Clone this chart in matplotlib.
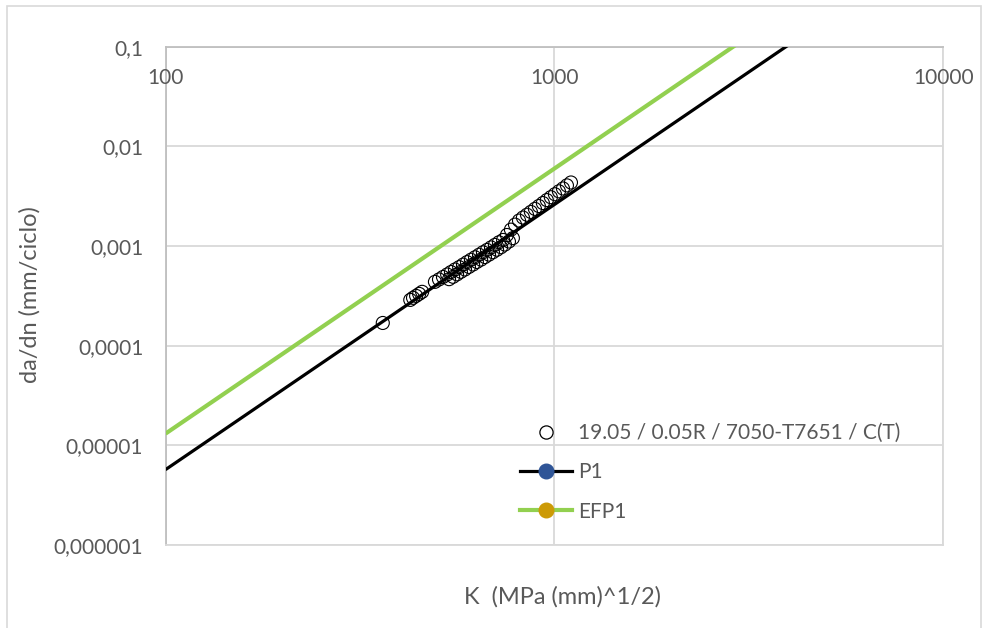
import matplotlib
matplotlib.use("Agg")
import numpy as np
import matplotlib.pyplot as plt
from matplotlib.lines import Line2D
from matplotlib.patches import Rectangle

plt.rcParams['font.family'] = ['Lato', 'DejaVu Sans']

# Measured crack growth data: K  (MPa (mm)^1/2) vs da/dn (mm/ciclo)
series_label = "19.05 / 0.05R / 7050-T7651 / C(T)"
k_data = [
    362,
    426, 433, 441, 449, 457,
    493, 505, 517, 530, 542, 555, 569, 582, 596, 610, 625, 640, 655, 671,
    687, 703, 720, 738, 755, 773, 792, 811, 830, 850, 870, 891, 912, 934,
    956, 979, 1003, 1027, 1052, 1077, 1103,
    536, 549, 562, 575, 589, 603, 618, 632, 648, 663, 679, 695, 712, 729,
    746, 764, 782,
]
dadn_data = [
    1.69e-4,
    2.88e-4, 3.02e-4, 3.16e-4, 3.31e-4, 3.47e-4,
    4.37e-4, 4.62e-4, 4.89e-4, 5.18e-4, 5.48e-4, 5.81e-4, 6.14e-4, 6.50e-4,
    6.89e-4, 7.28e-4, 7.71e-4, 8.17e-4, 8.65e-4, 9.14e-4, 9.68e-4, 1.026e-3,
    1.09e-3, 1.15e-3, 1.29e-3, 1.46e-3, 1.64e-3, 1.80e-3, 1.93e-3, 2.06e-3,
    2.20e-3, 2.36e-3, 2.52e-3, 2.70e-3, 2.89e-3, 3.09e-3, 3.31e-3, 3.54e-3,
    3.78e-3, 4.06e-3, 4.34e-3,
    4.65e-4, 4.91e-4, 5.20e-4, 5.51e-4, 5.82e-4, 6.17e-4, 6.53e-4, 6.92e-4,
    7.31e-4, 7.75e-4, 8.20e-4, 8.67e-4, 9.18e-4, 9.73e-4, 1.035e-3, 1.11e-3,
    1.20e-3,
]

# Paris-law curves da/dn = C * K^m
fit_labels = ["P1", "EFP1"]
fit_C = [2.73e-11, 6.27e-11]
fit_m = [2.66, 2.66]
fit_colors = ["#000000", "#92D050"]
fit_widths = [2.3, 3.0]
legend_marker_colors = ["#2F5597", "#CC9A06"]

x_ticks = [100, 1000, 10000]
x_tick_labels = ["100", "1000", "10000"]
y_ticks = [1e-6, 1e-5, 1e-4, 1e-3, 1e-2, 1e-1]
y_tick_labels = ["0,000001", "0,00001", "0,0001", "0,001", "0,01", "0,1"]

W, H = 986, 628
text_color = "#595959"
grid_color = "#D9D9D9"
axis_color = "#BFBFBF"
fs = 15
fs_title = 17

fig = plt.figure(figsize=(W / 100, H / 100), dpi=100)
fig.patch.set_facecolor("white")

# outer chart border
fig.add_artist(Rectangle((7 / W, -0.05), (981 - 7) / W, 1.05 - 6 / H,
                         transform=fig.transFigure, fill=False,
                         edgecolor=grid_color, lw=1.2))

left, right, top, bottom = 165.5, 943.3, 46.7, 545.0
ax = fig.add_axes([left / W, 1 - bottom / H, (right - left) / W, (bottom - top) / H])
ax.set_xscale("log")
ax.set_yscale("log")
ax.set_xlim(x_ticks[0], x_ticks[-1])
ax.set_ylim(y_ticks[0], y_ticks[-1])

ax.set_xticks(x_ticks)
ax.set_yticks(y_ticks)
ax.xaxis.set_minor_locator(matplotlib.ticker.NullLocator())
ax.yaxis.set_minor_locator(matplotlib.ticker.NullLocator())
ax.set_xticklabels([])
ax.set_yticklabels(y_tick_labels, color=text_color, fontsize=fs)
ax.tick_params(axis="both", length=0)
ax.tick_params(axis="y", pad=16)
ax.grid(True, color=grid_color, lw=1.3)
ax.set_axisbelow(True)
for side, sp in ax.spines.items():
    sp.set_color(grid_color if side in ("right", "bottom") else axis_color)
    sp.set_linewidth(1.3)

# category labels of the horizontal axis sit under the top edge
for xv, lab in zip(x_ticks, x_tick_labels):
    ax.annotate(lab, (xv, y_ticks[-1]), xytext=(0, -31), textcoords="offset pixels",
                ha="center", va="center", color=text_color, fontsize=fs)

ax.scatter(k_data, dadn_data, s=88, facecolors="none", edgecolors="black",
           linewidths=0.8, zorder=3, clip_on=False)

k_line = np.logspace(np.log10(x_ticks[0]), np.log10(x_ticks[-1]), 200)
for C, m, col, lw in zip(fit_C, fit_m, fit_colors, fit_widths):
    ax.plot(k_line, C * k_line ** m, color=col, lw=lw, zorder=4,
            solid_capstyle="butt")

handles = [Line2D([], [], ls="none", marker="o", mfc="none", mec="black",
                  ms=9.5, mew=0.9)]
for col, lw, mc in zip(fit_colors, fit_widths, legend_marker_colors):
    handles.append(Line2D([], [], color=col, lw=lw, marker="o", mfc=mc,
                          mec=mc, ms=10.5))
labels = [series_label] + fit_labels
leg = fig.legend(handles, labels, loc="upper left",
                 bbox_to_anchor=(520 / W, 1 - 423 / H), frameon=False,
                 fontsize=fs, handlelength=2.5, handletextpad=0.3,
                 labelspacing=0.93, borderpad=0, borderaxespad=0)
for t in leg.get_texts():
    t.set_color(text_color)

fig.text(30 / W, 1 - 295 / H, "da/dn (mm/ciclo)", rotation=90, ha="center",
         va="center", color=text_color, fontsize=fs_title)
fig.text(563 / W, 1 - 597 / H, "K  (MPa (mm)^1/2)", ha="center", va="center",
         color=text_color, fontsize=fs_title)

fig.savefig("out.png", dpi=100, facecolor="white")
